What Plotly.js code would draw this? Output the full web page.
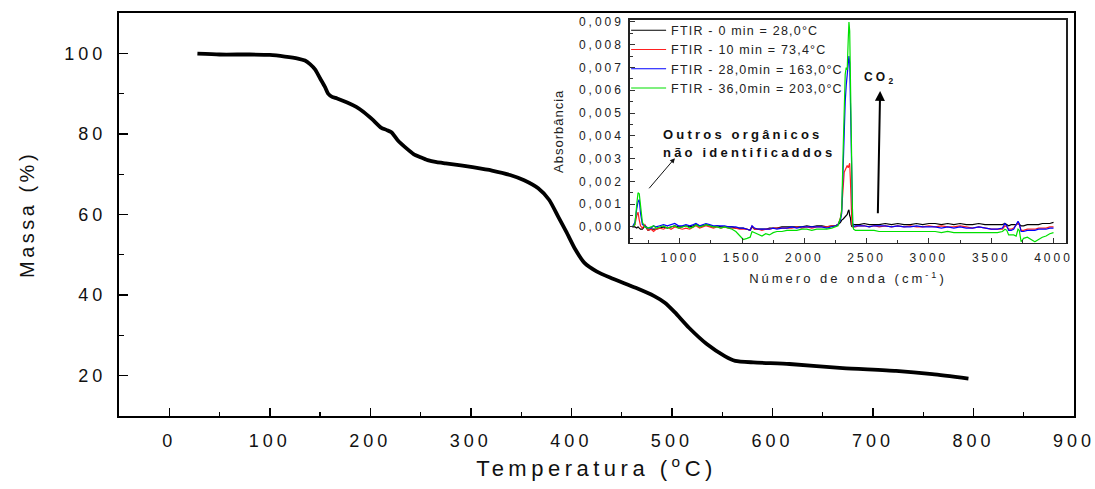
<!DOCTYPE html>
<html>
<head>
<meta charset="utf-8">
<script src="https://cdn.plot.ly/plotly-3.0.1.min.js"></script>
<style>
  html, body { margin: 0; padding: 0; background: #fff; }
  #chart { width: 1095px; height: 489px; }
  .xtick text, .ytick text { letter-spacing: 4px; }
  .x2tick text, .y2tick text { letter-spacing: 3px; }
  text.xtitle { letter-spacing: 4.5px; }
  text.ytitle { letter-spacing: 3.5px; }
  text.x2title { letter-spacing: 3px; }
  text.y2title { letter-spacing: 1px; }
  .legendtext { letter-spacing: 1.2px; }
  .annotation-text { letter-spacing: 3.2px; }
</style>
</head>
<body>
<div id="chart"></div>
<script>
// ---- Main TGA curve ----
const temperature = [28, 50, 80, 100, 115, 128, 135, 140, 145, 150, 155, 158, 162, 167, 177, 186, 193, 202, 211, 216, 221, 227, 236, 243, 250, 257, 266, 275, 290, 300, 321, 339, 353, 367, 378, 387, 395, 404, 413, 425, 439, 464, 482, 493, 503, 517, 535, 553, 563, 581, 617, 670, 723, 759, 795];
const massa = [99.9, 99.7, 99.7, 99.6, 99.2, 98.7, 98.2, 97.3, 96.0, 93.8, 91.6, 90.0, 89.2, 88.8, 87.8, 86.7, 85.5, 83.6, 81.5, 81.0, 80.4, 78.5, 76.4, 75.0, 74.2, 73.5, 73.0, 72.7, 72.2, 71.8, 70.9, 69.8, 68.5, 66.5, 63.6, 59.4, 55.7, 51.3, 48.0, 45.9, 44.3, 41.8, 39.8, 38.1, 35.7, 31.9, 27.8, 24.8, 23.7, 23.3, 22.9, 21.9, 21.2, 20.4, 19.3];

// ---- Inset FTIR spectra ----
const numeroOnda = [620, 640, 655, 665, 675, 685, 700, 720, 745, 770, 790, 810, 840, 870, 900, 930, 960, 990, 1020, 1050, 1080, 1110, 1130, 1160, 1190, 1210, 1240, 1270, 1300, 1330, 1360, 1390, 1420, 1450, 1480, 1510, 1540, 1565, 1580, 1600, 1630, 1660, 1690, 1720, 1750, 1780, 1820, 1860, 1900, 1940, 1980, 2020, 2060, 2100, 2140, 2180, 2220, 2250, 2270, 2290, 2300, 2312, 2320, 2328, 2336, 2344, 2352, 2358, 2364, 2370, 2376, 2382, 2388, 2395, 2410, 2440, 2480, 2520, 2560, 2600, 2650, 2700, 2750, 2800, 2850, 2900, 2950, 3000, 3050, 3100, 3150, 3200, 3250, 3300, 3350, 3400, 3450, 3500, 3550, 3590, 3610, 3625, 3640, 3660, 3680, 3700, 3715, 3725, 3740, 3760, 3790, 3820, 3850, 3880, 3910, 3940, 3970, 4000];

const ftir0min = [0, 0, -0.00005, 0, -0.00005, -0.0001, -0.0001, 0.00005, -0.00015, -0.0001, -0.0001, -0.0001, -0.00005, 0, -0.00005, 0, 0.00005, 0, 0, 0.00005, 0, 0.00005, 0.0001, 0.00005, 0.00005, 0.0001, 0.00005, 0, 0.00005, 0, 0, 0, 0, -0.00005, -0.00005, -0.00005, -0.0001, -0.00015, 0, -0.0001, -0.0001, -0.0001, -0.0001, -0.00005, -0.00005, -0.00005, 0, 0, 0, 0, 0, 0.00005, 0, 0.00005, 0.00005, 0, 0.00005, 0.00005, 0.0001, 0.0002, 0.0003, 0.00035, 0.0004, 0.00045, 0.0005, 0.00055, 0.0007, 0.00075, 0.0005, 0.0004, 0.0001, 0, 0.00005, 0.0001, 0.0001, 0.0001, 0.00015, 0.0001, 0.0001, 0.0001, 0.00015, 0.0001, 0.00015, 0.0001, 0.0001, 0.00015, 0.0001, 0.00015, 0.00015, 0.0001, 0.00015, 0.0001, 0.00015, 0.0001, 0.0001, 0.00015, 0.0001, 0.0001, 0.0001, 0.0001, 0.00015, 0.0001, 0.00005, 0.0001, 0.0001, 0.0001, 0.00015, 0.0001, 0.00005, 0.00005, 0.0001, 0.0001, 0.0001, 0.0001, 0.00015, 0.00015, 0.00015, 0.0002];

const ftir10min = [0, 0.0001, 0.0005, 0.00065, 0.0003, 0.00005, -0.00005, 0.0001, -0.00015, -0.0001, -0.0002, -0.0001, -0.00005, -0.0001, 0, -0.0001, 0, -0.00005, -0.0001, -0.00005, -0.0001, 0, 0.00005, -0.00005, 0, 0.00005, 0, -0.00005, 0, -0.00005, 0, -0.00005, -0.00005, -0.00005, -0.0001, -0.0001, -0.0001, -0.00015, 0.00005, -0.0001, -0.0001, -0.00015, -0.0001, -0.0001, -0.00005, -0.00005, -0.00005, -0.00005, -0.00005, 0, -0.00005, 0, -0.00005, 0, 0, 0, 0.00005, 0.00005, 0.0001, 0.0004, 0.0008, 0.002, 0.0024, 0.0025, 0.0026, 0.0027, 0.0026, 0.0027, 0.0028, 0.002, 0.0008, 0.0001, 0, 0, 0, 0.00005, 0.00005, 0, 0.00005, 0, 0.00005, 0, 0.00005, 0, 0.00005, 0, 0, 0.00005, 0, 0.00005, 0, 0, 0.00005, 0, -0.00005, 0, -0.00005, -0.0001, -0.0001, -0.0001, 0.00005, 0, -0.0001, -0.0001, -0.00005, 0.0001, 0.0002, 0.0001, -0.00015, -0.00015, -0.0001, -0.0001, -0.0001, -0.00005, -0.00005, -0.00005, 0, 0];

const ftir28min = [0, 0.0002, 0.0008, 0.0011, 0.0012, 0.0006, 0.0001, 0.00005, -0.00005, -0.00005, 0.00005, 0, 0.00005, 0.0001, 0.00005, 0.0001, 0.00015, 0.00005, 0.00005, 0.0001, 0.00005, 0.0001, 0.00015, 0.00005, 0.0001, 0.00015, 0.0001, 0.00005, 0.00005, 0.00005, 0.00005, 0, 0, 0, -0.00005, -0.00005, -0.0001, -0.00015, 0.00005, -0.00005, -0.0001, -0.0001, -0.0001, -0.0001, -0.00005, -0.0001, -0.00005, -0.00005, 0, -0.00005, 0, 0, 0, 0, 0, -0.00005, 0, 0.00005, 0.0001, 0.0003, 0.0006, 0.003, 0.004, 0.0055, 0.0062, 0.0068, 0.007, 0.0075, 0.0072, 0.0055, 0.004, 0.002, 0.0002, 0, 0.00005, 0.00005, 0.00005, 0, 0.00005, 0.00005, 0.00005, 0, 0.00005, 0, 0, 0.00005, 0, 0, 0, -0.00005, 0, -0.00005, 0, -0.00005, -0.00005, 0, -0.00005, -0.0001, -0.0001, -0.00005, 0.00015, 0.00005, -0.00015, -0.00015, -0.0001, 0.0001, 0.00025, 0.00015, -0.0002, -0.0002, -0.00015, -0.00015, -0.00015, -0.0001, -0.0001, -0.0001, -0.00005, -0.00005];

const ftir36min = [0, 0.0001, 0.001, 0.0015, 0.00145, 0.0008, 0.0002, 0, -0.00005, 0, 0.00005, -0.00005, 0, 0.00005, -0.00005, 0, 0.00005, -0.00005, 0, 0.00005, -0.00005, 0, 0.0001, 0, 0.00005, 0.0001, 0.00005, 0, 0, -0.00005, 0, -0.00005, -0.0001, -0.0002, -0.0004, -0.00055, -0.0005, -0.00045, -0.0002, -0.00025, -0.00035, -0.0004, -0.0003, -0.00035, -0.00025, -0.0002, -0.0002, -0.00015, -0.00015, -0.00015, -0.0001, -0.0001, -0.00015, -0.0001, -0.0001, -0.0001, -0.00005, 0, 0.00005, 0.0004, 0.0007, 0.0035, 0.005, 0.0067, 0.007, 0.0069, 0.0082, 0.009, 0.0086, 0.0064, 0.004, 0.002, 0.0001, -0.0001, -0.00015, -0.00015, -0.00015, -0.00015, -0.00015, -0.0002, -0.0002, -0.0002, -0.0002, -0.0002, -0.0002, -0.0002, -0.0002, -0.0002, -0.0002, -0.00025, -0.0002, -0.00025, -0.00025, -0.00025, -0.00025, -0.00025, -0.00025, -0.00025, -0.00025, -0.0002, -0.0001, -0.00015, -0.00035, -0.00035, -0.00035, -0.0004, -0.0001, -0.00015, -0.00065, -0.0005, -0.00045, -0.00055, -0.00065, -0.00055, -0.00045, -0.0004, -0.0003, -0.00025];

const legendNames = ['FTIR - 0 min = 28,0°C', 'FTIR - 10 min = 73,4°C', 'FTIR - 28,0min = 163,0°C', 'FTIR - 36,0min = 203,0°C'];
const ftirSeries = [ftir0min, ftir10min, ftir28min, ftir36min];
const ftirColors = ['#000000', '#ff2020', '#0000ff', '#00e000'];

const FONT = 'Arial, "Liberation Sans", sans-serif';

const traces = [{
  x: temperature, y: massa, type: 'scatter', mode: 'lines',
  line: { color: '#000', width: 3.8, shape: 'spline', smoothing: 0.6 },
  xaxis: 'x', yaxis: 'y', showlegend: false, hoverinfo: 'skip'
}];
ftirSeries.forEach((s, i) => {
  traces.push({
    x: numeroOnda, y: s, type: 'scatter', mode: 'lines', name: legendNames[i],
    line: { color: ftirColors[i], width: 1.2 },
    xaxis: 'x2', yaxis: 'y2', showlegend: true
  });
});

const layout = {
  width: 1095, height: 489,
  margin: { l: 119, r: 21, t: 13, b: 73, pad: 0 },
  paper_bgcolor: '#fff', plot_bgcolor: 'rgba(0,0,0,0)',
  separators: ',.',
  font: { family: FONT, color: '#111' },
  showlegend: true,
  legend: {
    x: 0.531, xanchor: 'left', y: 0.9935, yanchor: 'top',
    bgcolor: 'rgba(0,0,0,0)', borderwidth: 0,
    font: { size: 12.5, color: '#222', family: FONT },
    itemwidth: 35, tracegroupgap: 0
  },
  xaxis: {
    domain: [0, 1], range: [-50, 900], tick0: 0, dtick: 100,
    ticks: 'inside', ticklen: 8, tickwidth: 1.5, tickcolor: '#000',
    minor: { dtick: 50, ticks: 'inside', ticklen: 4, tickwidth: 1.2, tickcolor: '#000' },
    showline: true, linecolor: '#000', linewidth: 2, mirror: true,
    showgrid: false, zeroline: false, ticklabeloverflow: 'allow',
    tickfont: { size: 18, color: '#111', family: FONT },
    ticklabelstandoff: 7,
    title: { text: 'Temperatura (<sup>o</sup>C)', font: { size: 22, color: '#111', family: FONT }, standoff: 11 }
  },
  yaxis: {
    domain: [0, 1], range: [10, 110],
    tickvals: [20, 40, 60, 80, 100],
    ticks: 'inside', ticklen: 9, tickwidth: 1.5, tickcolor: '#000',
    minor: { tickvals: [30, 50, 70, 90], ticks: 'inside', ticklen: 5, tickwidth: 1.2, tickcolor: '#000' },
    showline: true, linecolor: '#000', linewidth: 2, mirror: true,
    showgrid: false, zeroline: false,
    tickfont: { size: 18, color: '#111', family: FONT },
    ticklabelstandoff: 7,
    title: { text: 'Massa (%)', font: { size: 20, color: '#111', family: FONT }, standoff: 24 }
  },
  xaxis2: {
    domain: [0.535, 0.9916], anchor: 'y2', range: [600, 4100], tick0: 0, dtick: 500,
    ticks: 'inside', ticklen: 5, tickwidth: 1, tickcolor: '#333',
    minor: { dtick: 250, ticks: 'inside', ticklen: 3, tickwidth: 1, tickcolor: '#333' },
    showline: true, linecolor: '#222', linewidth: 1.6, mirror: true,
    showgrid: false, zeroline: false,
    tickfont: { size: 12, color: '#222', family: FONT },
    ticklabelstandoff: 3,
    title: { text: 'Número de onda (cm<sup>-1</sup>)', font: { size: 13, color: '#222', family: FONT }, standoff: 10 }
  },
  yaxis2: {
    domain: [0.4296, 0.9834], anchor: 'x2', range: [-0.0007, 0.0091], tick0: 0, dtick: 0.001,
    tickformat: '.3f',
    ticks: 'inside', ticklen: 5, tickwidth: 1, tickcolor: '#333',
    minor: { dtick: 0.0005, ticks: 'inside', ticklen: 3, tickwidth: 1, tickcolor: '#333' },
    showline: true, linecolor: '#222', linewidth: 1.6, mirror: true,
    showgrid: false, zeroline: false,
    tickfont: { size: 12, color: '#222', family: FONT },
    ticklabelstandoff: 2,
    title: { text: 'Absorbância', font: { size: 13, color: '#222', family: FONT }, standoff: 12 }
  },
  annotations: [
    { xref: 'x2', yref: 'y2', x: 846, y: 0.00408, xanchor: 'left', yanchor: 'middle',
      text: '<b>Outros orgânicos</b>', showarrow: false, font: { size: 13, color: '#111', family: FONT } },
    { xref: 'x2', yref: 'y2', x: 846, y: 0.00325, xanchor: 'left', yanchor: 'middle',
      text: '<b>não identificaddos</b>', showarrow: false, font: { size: 13, color: '#111', family: FONT } },
    { xref: 'x2', yref: 'y2', x: 961, y: 0.00302, axref: 'x2', ayref: 'y2', ax: 744, ay: 0.00163,
      text: '', showarrow: true, arrowhead: 2, arrowsize: 1, arrowwidth: 1, arrowcolor: '#111', standoff: 0, startstandoff: 0 },
    { xref: 'x2', yref: 'y2', x: 2590, y: 0.0006, axref: 'x2', ayref: 'y2', ax: 2610, ay: 0.00652,
      xanchor: 'center', yanchor: 'middle', arrowside: 'start',
      text: '<b>CO<sub>2</sub></b>', showarrow: true, arrowhead: 2, startarrowhead: 2, arrowsize: 1, arrowwidth: 2, arrowcolor: '#000',
      standoff: 0, startstandoff: 3, font: { size: 12, color: '#111', family: FONT } }
  ]
};

Plotly.newPlot('chart', traces, layout, { displayModeBar: false, staticPlot: true });
</script>
</body>
</html>
